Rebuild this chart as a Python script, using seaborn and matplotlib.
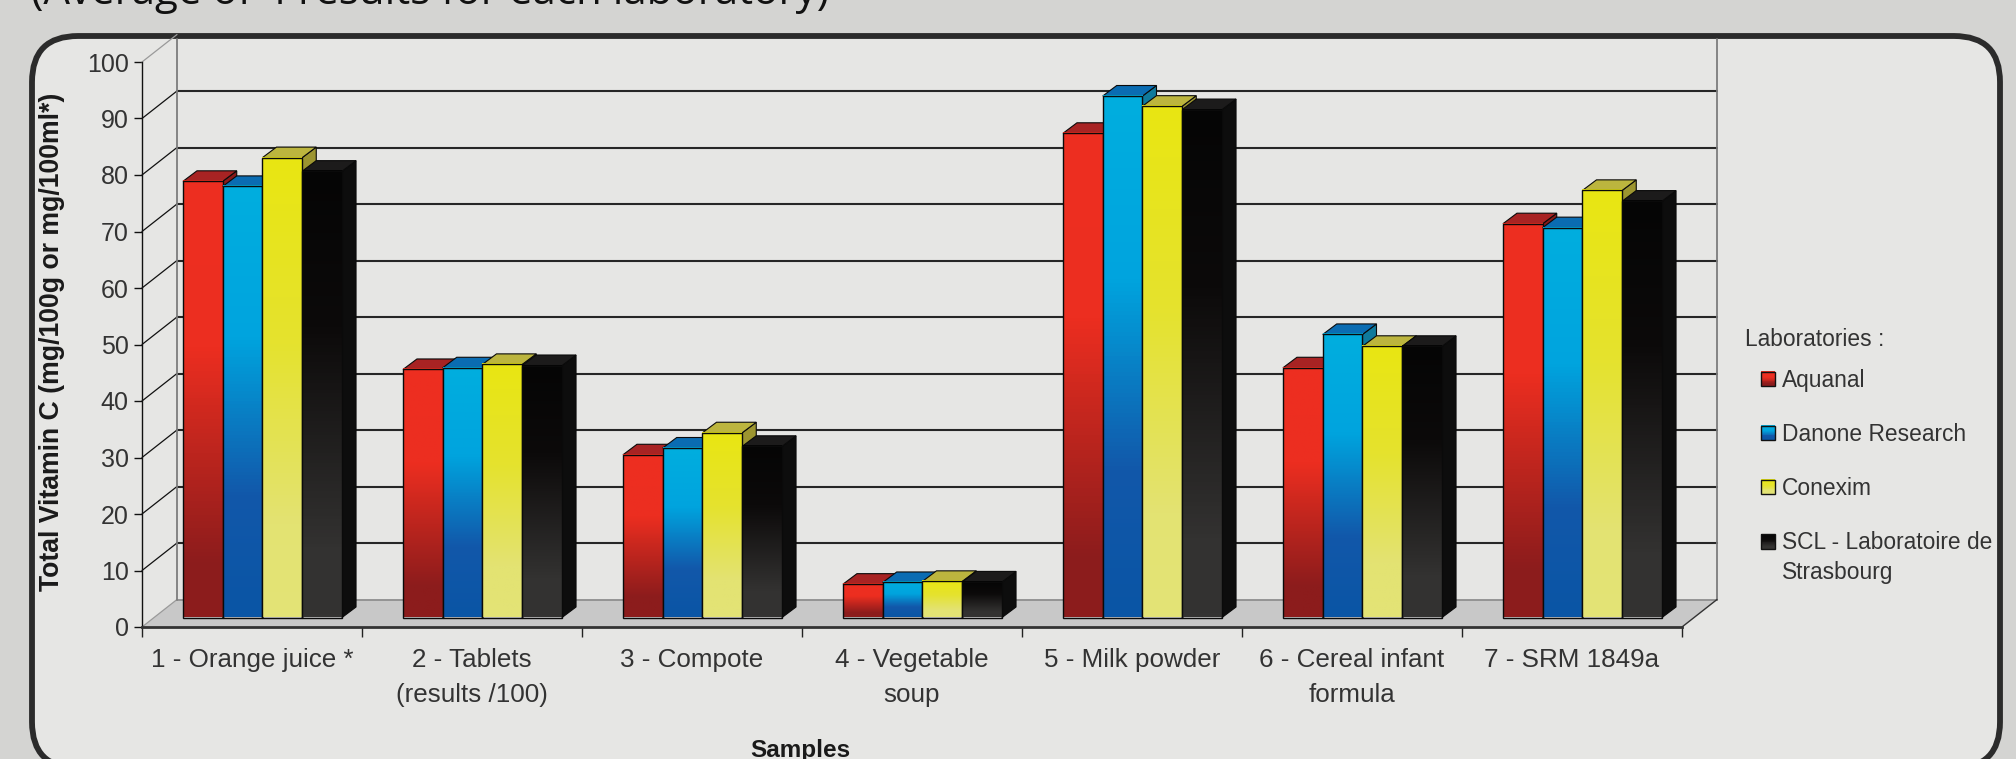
import numpy as np
import pandas as pd
import matplotlib
matplotlib.use("Agg")
import matplotlib.pyplot as plt
import seaborn as sns
from matplotlib.colors import LinearSegmentedColormap
from matplotlib.legend_handler import HandlerBase
from matplotlib.patches import FancyBboxPatch, Patch, Polygon, Rectangle
from matplotlib.transforms import IdentityTransform

samples = ["1 - Orange juice *", "2 - Tablets\n(results /100)", "3 - Compote",
           "4 - Vegetable\nsoup", "5 - Milk powder", "6 - Cereal infant\nformula",
           "7 - SRM 1849a"]
labs = ["Aquanal", "Danone Research", "Conexim", "SCL - Laboratoire de\nStrasbourg"]
aquanal = [77.2, 43.9, 28.8, 5.9, 85.7, 44.2, 69.7]
danone = [76.3, 44.2, 30.0, 6.2, 92.3, 50.1, 69.0]
conexim = [81.4, 44.8, 32.7, 6.4, 90.5, 48.0, 75.6]
scl = [79.0, 44.6, 30.3, 6.3, 89.9, 48.0, 73.7]
y_levels = list(range(0, 101, 10))

W, H, DPI = 2016, 759, 100
AX_L, AX_R, AX_T, AX_B = 142, 1682, 62, 627
PX_X = 7 / (AX_R - AX_L)     # category units per pixel
PX_Y = 100 / (AX_B - AX_T)   # value units per pixel

# fake-3D depths, in pixels
WALL_DX, WALL_DY = 35, 27.5
BAR_SHIFT_X, BAR_SHIFT_Y = 10.5, 9.5
BAR_DX, BAR_DY = 14, 10.5

front_cmaps = [
    LinearSegmentedColormap.from_list("red", [(0, "#ee2e20"), (0.38, "#ec2e20"), (0.88, "#8c1c1c"), (1, "#8c1c1c")]),
    LinearSegmentedColormap.from_list("blue", [(0, "#00aede"), (0.35, "#00a4de"), (0.72, "#1258aa"), (1, "#0a55a5")]),
    LinearSegmentedColormap.from_list("yellow", [(0, "#e9e612"), (0.4, "#e5e22e"), (0.8, "#e3e372"), (1, "#e3e376")]),
    LinearSegmentedColormap.from_list("black", [(0, "#050505"), (0.35, "#0c0a0a"), (0.85, "#333231"), (1, "#343332")]),
]
top_colors = ["#a82323", "#0a6cb2", "#bcb53e", "#1c1b1b"]
side_colors = ["#8a1a1a", "#0f7a9c", "#9c9530", "#0d0d0d"]
base_colors = ["#ee2e20", "#00aede", "#e9e612", "#050505"]

sns.set_theme(style="white")
plt.rcParams["font.family"] = ["Liberation Sans", "DejaVu Sans"]

table = pd.DataFrame({
    "sample": np.tile(samples, len(labs)),
    "lab": np.repeat(labs, len(samples)),
    "value": aquanal + danone + conexim + scl,
})

fig = plt.figure(figsize=(W / DPI, H / DPI), dpi=DPI, facecolor="#d4d4d2")

# rounded frame behind the plot; its lower edge runs off the page
frame_l, frame_r, frame_t, frame_b = 32, 2000, 36, 768
radius = 46
frame = FancyBboxPatch(
    (frame_l + radius, H - frame_b + radius),
    frame_r - frame_l - 2 * radius, frame_b - frame_t - 2 * radius,
    boxstyle=f"round,pad={radius},rounding_size={radius}",
    transform=IdentityTransform(),
    facecolor="#e6e6e4", edgecolor="#2b2b2b", linewidth=4.2, zorder=-5)
fig.add_artist(frame)

fig.text(31 / W, 1 - 4 / H, "(Average of 4 results for each laboratory)",
         family="Open Sans", fontsize=30.3, color="#111111", va="baseline", ha="left")

ax = fig.add_axes([AX_L / W, 1 - AX_B / H, (AX_R - AX_L) / W, (AX_B - AX_T) / H])
ax.patch.set_visible(False)

sns.barplot(data=table, x="sample", y="value", hue="lab", order=samples, hue_order=labs,
            palette=base_colors, width=0.723, gap=0, legend=False, ax=ax, zorder=5)

x_min, x_max = -0.5, 6.5
wall_x = WALL_DX * PX_X
wall_y = WALL_DY * PX_Y
wall_top = (AX_B - 39) * PX_Y

# floor, back wall and the side-wall ticks
ax.add_patch(Polygon([(x_min, 0), (x_max, 0), (x_max + wall_x, wall_y), (x_min + wall_x, wall_y)],
                     closed=True, facecolor="#c8c8c8", edgecolor="none", zorder=1, clip_on=False))
for level in y_levels:
    light = level in (0, 100)
    ax.plot([x_min, x_min + wall_x], [level, level + wall_y], color="#9a9a9a" if light else "#111111",
            lw=0.9, zorder=2, clip_on=False)
    if level < 100:
        ax.plot([x_min + wall_x, x_max + wall_x], [level + wall_y] * 2,
                color="#8a8a8a" if level == 0 else "#262626", lw=1.5 if level else 1.2,
                zorder=2, clip_on=False)
for edge in (x_min + wall_x, x_max + wall_x):
    ax.plot([edge, edge], [wall_y, wall_top], color="#7c7c7c", lw=1.3, zorder=2, clip_on=False)
ax.plot([x_max, x_max + wall_x], [0, wall_y], color="#333333", lw=1.0, zorder=2, clip_on=False)

# turn each flat bar into a box: side, top and a shaded front, painted left to right
shift_x = BAR_SHIFT_X * PX_X
shift_y = BAR_SHIFT_Y * PX_Y
depth_x = BAR_DX * PX_X
depth_y = BAR_DY * PX_Y
for lab_idx, container in enumerate(ax.containers):
    for sample_idx, bar in enumerate(container):
        z = 5 + sample_idx + lab_idx * 0.1
        x0 = bar.get_x() + shift_x
        x1 = x0 + bar.get_width()
        y0 = shift_y
        y1 = y0 + bar.get_height()
        bar.set_x(x0)
        bar.set_y(y0)
        bar.set_facecolor("none")
        bar.set_edgecolor("#0a0a0a")
        bar.set_linewidth(1.0)
        bar.set_zorder(z + 0.03)
        ax.add_patch(Polygon([(x1, y0), (x1 + depth_x, y0 + depth_y), (x1 + depth_x, y1 + depth_y), (x1, y1)],
                             closed=True, facecolor=side_colors[lab_idx], edgecolor="#0a0a0a", lw=0.8, zorder=z))
        ax.add_patch(Polygon([(x0, y1), (x1, y1), (x1 + depth_x, y1 + depth_y), (x0 + depth_x, y1 + depth_y)],
                             closed=True, facecolor=top_colors[lab_idx], edgecolor="#0a0a0a", lw=0.8, zorder=z + 0.01))
        shade = np.linspace(0, 1, 128).reshape(-1, 1)
        ax.imshow(shade, cmap=front_cmaps[lab_idx], vmin=0, vmax=1, aspect="auto",
                  extent=(x0, x1, y0, y1), origin="upper", zorder=z + 0.02, clip_on=False)

ax.set_xlim(x_min, x_max)
ax.set_ylim(0, 100)

# axes: ticks sit on the group boundaries, labels in the middle of each group
ax.set_yticks(y_levels)
ax.set_xticks(np.arange(x_min, x_max + 0.5))
ax.set_xticklabels([])
ax.set_xticks(np.arange(len(samples)), labels=samples, minor=True)
ax.tick_params(axis="y", which="major", left=True, length=6, width=1.0, color="#111111",
               labelsize=18, labelcolor="#333333", pad=3.5)
ax.tick_params(axis="x", which="major", bottom=True, length=7, width=1.0, color="#222222")
ax.tick_params(axis="x", which="minor", bottom=False, length=0, labelsize=18.7,
               labelcolor="#333333", pad=15)
for label in ax.get_xticklabels(minor=True):
    label.set_linespacing(1.6)

for name in ("top", "right"):
    ax.spines[name].set_visible(False)
ax.spines["left"].set_color("#111111")
ax.spines["left"].set_linewidth(1.0)
ax.spines["bottom"].set_color("#333333")
ax.spines["bottom"].set_linewidth(2.0)

ax.set_ylabel("Total Vitamin C (mg/100g or mg/100ml*)", fontsize=19.2, fontweight="bold", color="#1a1a1a")
ax.yaxis.set_label_coords((65 - AX_L) / (AX_R - AX_L), (AX_B - 342) / (AX_B - AX_T))
ax.set_xlabel("Samples", fontsize=17.5, fontweight="bold", color="#1a1a1a")
ax.xaxis.set_label_coords((800 - AX_L) / (AX_R - AX_L), (AX_B - 750) / (AX_B - AX_T))
ax.xaxis.label.set_verticalalignment("center")


class ShadedSwatch(HandlerBase):
    """Legend key painted with the same vertical shading as the bars."""

    def create_artists(self, legend, orig_handle, xdescent, ydescent, width, height, fontsize, trans):
        cmap = orig_handle.shade
        # keys of two-line labels stay level with the first line
        lift = 12 if "\n" in orig_handle.get_label() else 0
        steps = 16
        parts = []
        for step in range(steps):
            parts.append(Rectangle((-xdescent, -ydescent + lift + height * (1 - (step + 1) / steps)),
                                   width, height / steps + 0.2, facecolor=cmap(step / (steps - 1)),
                                   edgecolor="none", transform=trans))
        parts.append(Rectangle((-xdescent, -ydescent + lift), width, height, facecolor="none",
                               edgecolor="#111111", linewidth=1.0, transform=trans))
        return parts


handles = []
for lab, cmap in zip(labs, front_cmaps):
    handle = Patch(label=lab)
    handle.shade = cmap
    handles.append(handle)

fig.text(1745 / W, 1 - 340 / H, "Laboratories :", fontsize=16.4, color="#333333", va="center", ha="left")
legend = fig.legend(handles=handles, handler_map={Patch: ShadedSwatch()},
                    loc="upper left", bbox_to_anchor=(1761 / W, 1 - 369 / H), bbox_transform=fig.transFigure,
                    frameon=False, fontsize=16.4, labelcolor="#333333", borderpad=0, borderaxespad=0,
                    handlelength=0.62, handleheight=0.62, handletextpad=0.3, labelspacing=1.36)
for text in legend.get_texts():
    text.set_linespacing(1.4)

fig.savefig("out.png", dpi=DPI, facecolor=fig.get_facecolor())
